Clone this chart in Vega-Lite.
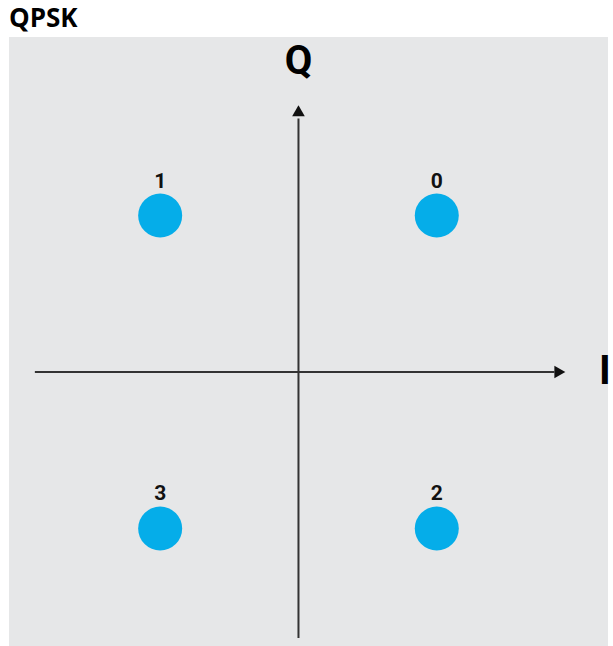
{
  "$schema": "https://vega.github.io/schema/vega-lite/v6.json",
  "autosize": {"type": "fit", "contains": "padding"},
  "width": 613,
  "height": 646,
  "padding": {"left": 9, "right": 2, "top": 6, "bottom": 0},
  "background": "white",
  "title": {"text": "QPSK", "anchor": "start", "font": "Open Sans", "fontSize": 26, "fontWeight": "bold", "color": "#000000", "offset": 5},
  "config": {"view": {"stroke": null, "fill": "#e6e7e8"}},
  "datasets": {
    "points": [
      {"i": 1, "q": 1, "label": "0"},
      {"i": -1, "q": 1, "label": "1"},
      {"i": 1, "q": -1, "label": "2"},
      {"i": -1, "q": -1, "label": "3"}
    ],
    "axesLines": [
      {"x": -1.906, "x2": 1.85, "y": 0, "y2": 0},
      {"x": 0, "x2": 0, "y": -1.70, "y2": 1.62}
    ],
    "arrows": [
      {"x": 1.89, "y": 0, "shape": "triangle-right"},
      {"x": 0, "y": 1.67, "shape": "triangle-up"}
    ],
    "axisLabels": [
      {"x": 0, "y": 1.98, "text": "Q"},
      {"x": 2.216, "y": 0, "text": "I"}
    ]
  },
  "layer": [
    {
      "data": {"name": "axesLines"},
      "mark": {"type": "rule", "color": "#333333", "strokeWidth": 2},
      "encoding": {
        "x": {"field": "x", "type": "quantitative", "scale": {"domain": [-2.093, 2.238], "nice": false, "zero": false}, "axis": null},
        "x2": {"field": "x2"},
        "y": {"field": "y", "type": "quantitative", "scale": {"domain": [-1.751, 2.141], "nice": false, "zero": false}, "axis": null},
        "y2": {"field": "y2"}
      }
    },
    {
      "data": {"name": "arrows"},
      "mark": {"type": "point", "filled": true, "color": "#111111", "size": 160, "opacity": 1},
      "encoding": {
        "x": {"field": "x", "type": "quantitative"},
        "y": {"field": "y", "type": "quantitative"},
        "shape": {"field": "shape", "type": "nominal", "scale": null, "legend": null}
      }
    },
    {
      "data": {"name": "axisLabels"},
      "mark": {"type": "text", "font": "Roboto", "fontWeight": "bold", "fontSize": 40, "color": "#000000", "baseline": "middle", "align": "center"},
      "encoding": {
        "x": {"field": "x", "type": "quantitative"},
        "y": {"field": "y", "type": "quantitative"},
        "text": {"field": "text"}
      }
    },
    {
      "data": {"name": "points"},
      "mark": {"type": "circle", "color": "#05ade9", "size": 1936, "opacity": 1},
      "encoding": {
        "x": {"field": "i", "type": "quantitative"},
        "y": {"field": "q", "type": "quantitative"}
      }
    },
    {
      "data": {"name": "points"},
      "mark": {"type": "text", "font": "Roboto", "fontWeight": "bold", "fontSize": 21, "color": "#111111", "baseline": "middle", "align": "center", "dy": -34},
      "encoding": {
        "x": {"field": "i", "type": "quantitative"},
        "y": {"field": "q", "type": "quantitative"},
        "text": {"field": "label"}
      }
    }
  ]
}
